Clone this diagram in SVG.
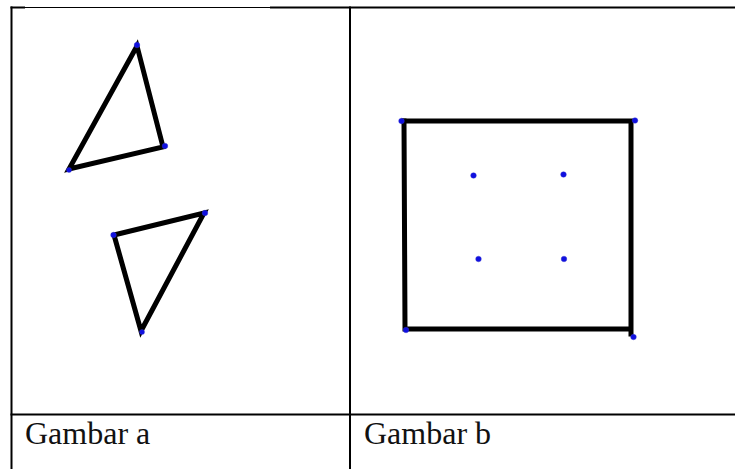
<svg xmlns="http://www.w3.org/2000/svg" width="735" height="469" viewBox="0 0 735 469">
<style>
.grid{stroke:#000;stroke-width:2;fill:none}
.shape{stroke:#000;stroke-width:5;fill:none;stroke-linejoin:miter;stroke-linecap:square}
.dot{fill:#1010e0;stroke:#3a3ad0;stroke-width:0.8;stroke-opacity:0.5}
.lbl{font-family:"Liberation Serif","Times New Roman",serif;font-size:32px;fill:#111}
</style>
<rect width="735" height="469" fill="#fff"/>
<g id="table">
<line class="grid" x1="10.5" y1="7.5" x2="25" y2="7.5"/>
<line x1="25" y1="7.5" x2="270" y2="7.5" stroke="#000" stroke-width="1.2"/>
<line class="grid" x1="270" y1="7.5" x2="735" y2="7.5"/>
<line class="grid" x1="11.5" y1="6.5" x2="11.5" y2="469"/>
<line class="grid" x1="350" y1="6.5" x2="350" y2="469"/>
<line class="grid" x1="10.5" y1="414.5" x2="735" y2="414.5"/>
</g>
<g id="gambar-a">
<polygon class="shape" points="137,46 163,147 69,169"/>
<polygon class="shape" points="114,235 204,213 141,331"/>
<circle class="dot" cx="137" cy="45" r="2.8"/>
<circle class="dot" cx="165" cy="146" r="2.8"/>
<circle class="dot" cx="69" cy="170" r="2.5"/>
<circle class="dot" cx="113.5" cy="235" r="2.8"/>
<circle class="dot" cx="205" cy="213" r="2.8"/>
<circle class="dot" cx="142" cy="332" r="2.5"/>
</g>
<g id="gambar-b">
<polyline class="shape" points="404,121 631,121 631,334"/>
<polyline class="shape" points="404,121 405,329 630,329"/>
<circle class="dot" cx="401.5" cy="121" r="2.8"/>
<circle class="dot" cx="635" cy="120.5" r="2.8"/>
<circle class="dot" cx="406" cy="330" r="2.8"/>
<circle class="dot" cx="633.5" cy="337" r="2.8"/>
<circle class="dot" cx="473.5" cy="175.5" r="2.8"/>
<circle class="dot" cx="563.5" cy="174.5" r="2.8"/>
<circle class="dot" cx="478.5" cy="259" r="2.8"/>
<circle class="dot" cx="564" cy="259" r="2.8"/>
</g>
<g id="labels">
<text class="lbl" x="25" y="444">Gambar a</text>
<text class="lbl" x="364" y="444">Gambar b</text>
</g>
</svg>
